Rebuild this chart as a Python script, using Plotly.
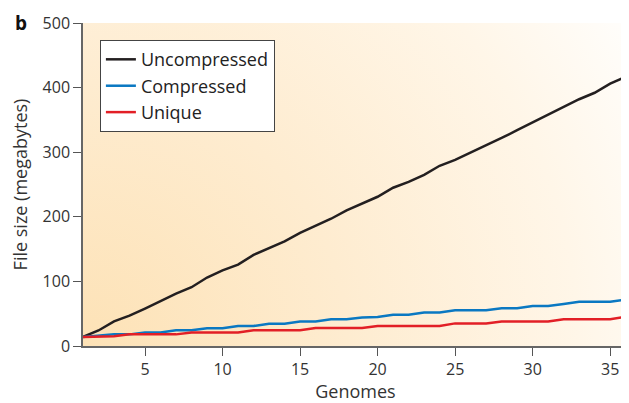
import plotly.graph_objects as go
import urllib.parse

genomes = list(range(1, 37))
uncompressed = [14, 24, 38, 47, 58, 70, 81, 91, 106, 117, 126, 141, 151, 162, 175, 186,
                197, 210, 221, 231, 245, 254, 265, 279, 288, 299, 311, 322, 334, 346,
                357, 370, 382, 392, 406, 417]
compressed = [14, 16, 18, 18, 21, 21, 24.5, 24.5, 27.5, 27.5, 31, 31, 34.5, 34.5, 38, 38,
              41.5, 41.5, 44, 45, 48.5, 48.5, 52, 52, 55.5, 55.5, 55.5, 58.5, 58.5, 62,
              62, 65, 68.5, 68.5, 68.5, 72]
unique = [14, 14, 15, 18, 18, 18, 18, 21, 21, 21, 21, 24.5, 24.5, 24.5, 24.5, 28, 28,
          28, 28, 31, 31, 31, 31, 31, 35, 35, 35, 38, 38, 38, 38, 41.5, 41.5, 41.5, 41.5, 45]
y_ticks = [0, 100, 200, 300, 400, 500]
x_ticks = [5, 10, 15, 20, 25, 30, 35]

FONT = "Open Sans"

svg = ('<svg xmlns="http://www.w3.org/2000/svg" width="545" height="323" '
       'preserveAspectRatio="none" viewBox="0 0 545 323">'
       '<defs><radialGradient id="g" cx="0" cy="323" r="660" gradientUnits="userSpaceOnUse">'
       '<stop offset="0" stop-color="#fde2b6"/>'
       '<stop offset="0.4" stop-color="#feecd0"/>'
       '<stop offset="0.75" stop-color="#fff6e8"/>'
       '<stop offset="1" stop-color="#ffffff"/>'
       '</radialGradient></defs>'
       '<rect width="545" height="323" fill="url(#g)"/></svg>')
bg_src = "data:image/svg+xml;charset=utf-8," + urllib.parse.quote(svg)

fig = go.Figure()
fig.add_trace(go.Scatter(x=genomes, y=uncompressed, mode="lines", name="Uncompressed",
                         line=dict(color="#231f20", width=2.5)))
fig.add_trace(go.Scatter(x=genomes, y=compressed, mode="lines", name="Compressed",
                         line=dict(color="#0a78c2", width=2.5)))
fig.add_trace(go.Scatter(x=genomes, y=unique, mode="lines", name="Unique",
                         line=dict(color="#e21f26", width=2.5)))

# page body has an 8px default margin; figure is sized/offset to compensate
fig.update_layout(
    width=621, height=395,
    margin=dict(l=75, r=1, t=15, b=57),
    paper_bgcolor="white",
    plot_bgcolor="white",
    font=dict(family=FONT, color="#333333", size=16),
    images=[dict(source=bg_src, xref="paper", yref="paper", x=0, y=1,
                 sizex=1, sizey=1, sizing="stretch", layer="below",
                 xanchor="left", yanchor="top")],
    xaxis=dict(range=[1, 36.15], tickvals=x_ticks, ticks="outside", ticklen=8,
               tickcolor="#555555", tickwidth=1.3, showline=True, linecolor="#666666",
               linewidth=1.5, showgrid=False, zeroline=False, automargin=False,
               tickfont=dict(size=16, color="#333333"),
               title=dict(text="Genomes", font=dict(size=18, color="#333333"), standoff=9)),
    yaxis=dict(range=[0, 500], tickvals=y_ticks, ticks="outside", ticklen=8,
               tickcolor="#555555", tickwidth=1.3, showline=True, linecolor="#666666",
               linewidth=1.5, showgrid=False, zeroline=False, automargin=False,
               tickfont=dict(size=16, color="#333333"),
               title=dict(text="File size (megabytes)", font=dict(size=18, color="#333333"),
                          standoff=11)),
    legend=dict(x=0.031, y=0.947, xanchor="left", yanchor="top",
                bgcolor="white", bordercolor="#444444", borderwidth=1,
                font=dict(size=18, color="#222222"), itemwidth=30),
    showlegend=True,
    annotations=[dict(text="<b>b</b>", xref="paper", yref="paper", x=-0.128, y=1.0,
                      xanchor="left", yanchor="middle", showarrow=False,
                      font=dict(size=19, color="#111111", family=FONT))],
)

fig.write_html("out.html")
